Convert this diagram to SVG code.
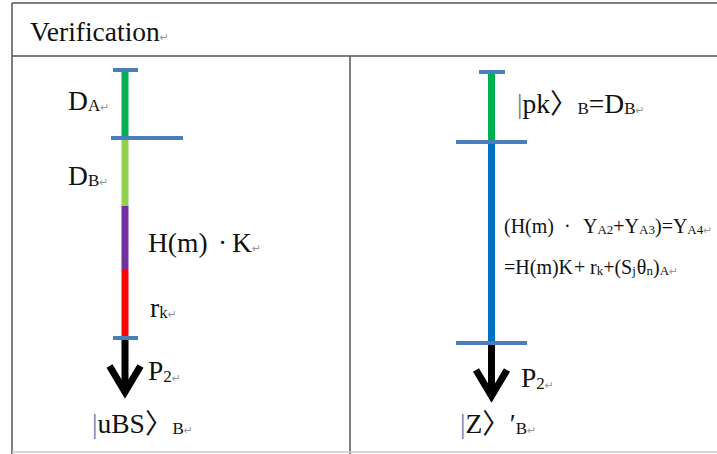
<svg xmlns="http://www.w3.org/2000/svg" width="717" height="454" viewBox="0 0 717 454">
<style>
  text { font-family: "Liberation Serif", "Noto Sans CJK SC", serif; fill: #111; }
  .lbl { font-size: 27.5px; }
  .eq { font-size: 20px; }
  .sub { font-size: 17px; }
  .esub { font-size: 13px; }
  .pm { font-family: "DejaVu Sans", sans-serif; font-size: 11px; fill: #9a9a9a; }
  .bar { stroke-width: 7; fill: none; }
  .cap { stroke: #4a7ebb; stroke-width: 4; }
  .arrow { stroke: #000; stroke-width: 7; fill: none; }
  .grid { stroke: #555; stroke-width: 1.5; fill: none; }
  .ket { fill: #5e86b4; }
</style>
<defs>
  <marker id="openArrow" viewBox="-40 -25 50 50" markerWidth="50" markerHeight="50" refX="0" refY="0" orient="auto" markerUnits="userSpaceOnUse">
    <path d="M-26,-15.5 L0,0 L-26,15.5" fill="none" stroke="#000" stroke-width="7" stroke-linejoin="miter" stroke-miterlimit="10"/>
  </marker>
</defs>
<rect width="717" height="454" fill="#fff"/>

<g id="table">
  <line class="grid" x1="12" y1="3" x2="717" y2="3"/>
  <line class="grid" x1="12" y1="56" x2="717" y2="56"/>
  <line class="grid" x1="12" y1="3" x2="12" y2="454"/>
  <line class="grid" x1="350" y1="56" x2="350" y2="454"/>
  <line x1="12" y1="452" x2="717" y2="452" stroke="#c8c8c8" stroke-width="1.5"/>
</g>

<g id="title">
  <text class="lbl" x="30" y="41">Verification<tspan class="pm">↵</tspan></text>
</g>

<g id="connectors">
  <!-- left column -->
  <line class="bar" stroke="#00b050" x1="125" y1="70" x2="125" y2="138"/>
  <line class="bar" stroke="#92d050" x1="125" y1="138" x2="125" y2="206"/>
  <line class="bar" stroke="#7030a0" x1="125" y1="206" x2="125" y2="270"/>
  <line class="bar" stroke="#ff0000" x1="125" y1="270" x2="125" y2="338"/>
  <line class="cap" x1="113" y1="70" x2="138" y2="70"/>
  <line class="cap" x1="111" y1="138" x2="183" y2="138"/>
  <line class="cap" x1="113" y1="338" x2="138" y2="338"/>
  <line class="arrow" x1="125" y1="340" x2="125" y2="392" marker-end="url(#openArrow)"/>
  <!-- right column -->
  <line class="bar" stroke="#00b050" x1="491.5" y1="72" x2="491.5" y2="142"/>
  <line class="bar" stroke="#0070c0" x1="491.5" y1="142" x2="491.5" y2="343"/>
  <line class="cap" x1="479" y1="72" x2="505" y2="72"/>
  <line class="cap" x1="456" y1="142" x2="527" y2="142"/>
  <line class="cap" x1="456" y1="343" x2="527" y2="343"/>
  <line class="arrow" x1="491.5" y1="345" x2="491.5" y2="396" marker-end="url(#openArrow)"/>
</g>

<g id="label-DA">
  <text class="lbl" x="68" y="110">D<tspan class="sub" dy="1">A</tspan><tspan class="pm">↵</tspan></text>
</g>
<g id="label-DB">
  <text class="lbl" x="68" y="185">D<tspan class="sub" dy="1">B</tspan><tspan class="pm">↵</tspan></text>
</g>
<g id="label-HmK">
  <text class="lbl" x="148" y="252">H(m)<tspan x="218">·</tspan><tspan x="232">K</tspan><tspan class="pm">↵</tspan></text>
</g>
<g id="label-rk">
  <text class="lbl" x="150" y="317">r<tspan class="sub" dy="1">k</tspan><tspan class="pm">↵</tspan></text>
</g>
<g id="label-P2-left">
  <text class="lbl" x="148" y="380">P<tspan class="sub" dy="2">2</tspan><tspan class="pm">↵</tspan></text>
</g>
<g id="label-uBS">
  <text class="lbl" x="92" y="433"><tspan class="ket">|</tspan>uBS〉<tspan class="sub" dy="1">B</tspan><tspan class="pm">↵</tspan></text>
</g>

<g id="label-pk">
  <text class="lbl" x="517" y="113"><tspan fill="#777">|</tspan>pk〉<tspan class="sub" dy="1">B</tspan><tspan dy="-1">=D</tspan><tspan class="sub" dy="1">B</tspan><tspan class="pm">↵</tspan></text>
</g>
<g id="label-eq1">
  <text class="eq" x="504" y="233">(H(m)<tspan x="564">·</tspan><tspan x="583">Y</tspan><tspan class="esub" dy="1">A2</tspan><tspan dy="-1">+Y</tspan><tspan class="esub" dy="1">A3</tspan><tspan dy="-1">)=Y</tspan><tspan class="esub" dy="1">A4</tspan><tspan class="pm">↵</tspan></text>
</g>
<g id="label-eq2">
  <text class="eq" x="504" y="274">=H(m)K<tspan x="574">+</tspan><tspan x="590">r</tspan><tspan class="esub" dy="1">k</tspan><tspan dy="-1">+(S</tspan><tspan class="esub" dy="1">j</tspan><tspan dx="1" dy="-1">θ</tspan><tspan class="esub" dy="1">n</tspan><tspan dy="-1">)</tspan><tspan class="esub" dy="1">A</tspan><tspan class="pm">↵</tspan></text>
</g>
<g id="label-P2-right">
  <text class="lbl" x="521" y="387">P<tspan class="sub" dy="2">2</tspan><tspan class="pm">↵</tspan></text>
</g>
<g id="label-Z">
  <text class="lbl" x="460" y="433"><tspan class="ket">|</tspan>Z〉′<tspan class="sub" dy="1">B</tspan><tspan class="pm">↵</tspan></text>
</g>
</svg>
